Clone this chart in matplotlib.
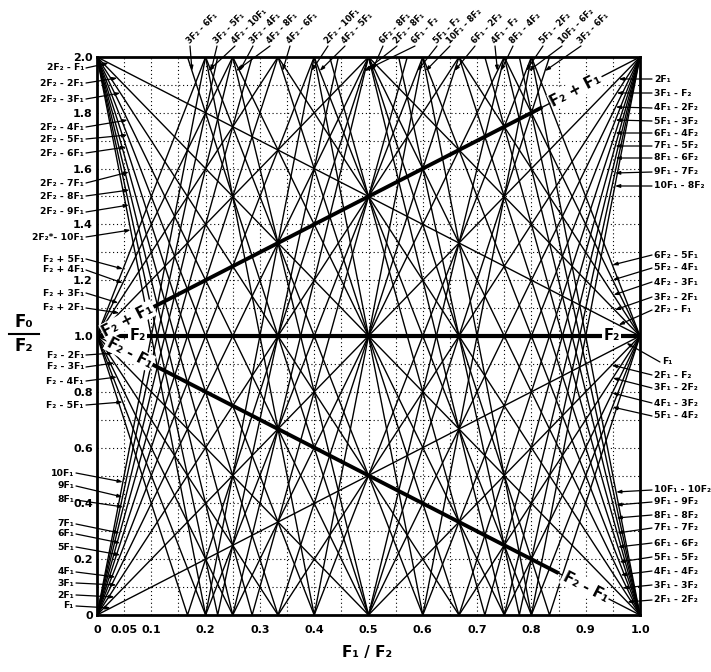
import numpy as np
import matplotlib.pyplot as plt

W, H = 711, 672
plt.rcParams["font.family"] = ["DejaVu Sans"]
plt.rcParams["font.weight"] = "bold"

# every product line is y = |m*x + n|   with x = F1/F2, y = F0/F2
harm_m = [1, 2, 3, 4, 5, 6, 7, 8, 9, 10]            # mF1
sum_m = [1, 2, 3, 4, 5]                              # F2 + mF1
diff_m = [1, 2, 3, 4, 5, 6]                          # F2 - mF1
diff2_m = [1, 2, 3, 4, 5, 6, 7, 8, 9, 10]            # 2F2 - mF1
equal_k = [2, 3, 4, 5, 6, 7, 8, 9, 10]               # kF1 - kF2
upper_m = [2, 3, 4, 5]                               # (m+1)F2 - mF1  (m>=2)
lower_m = [4, 5, 6]                                  # mF1 - (m-1)F2
top_m = [5, 6, 7, 8, 9, 10]                          # mF1 - (m-2)F2
extra_mn = [(6, -3), (8, -4), (10, -4), (10, -6)]    # 3F2-6F1, 4F2-8F1, 4F2-10F1, 10F1-6F2

lines_mn = ([(m, 0) for m in harm_m] + [(m, 1) for m in sum_m]
            + [(m, -1) for m in diff_m] + [(m, -2) for m in diff2_m]
            + [(k, -k) for k in equal_k] + [(m, -(m + 1)) for m in upper_m]
            + [(m, -(m - 1)) for m in lower_m] + [(m, -(m - 2)) for m in top_m]
            + extra_mn)
lines_mn = sorted(set(lines_mn))

S1, S2 = "\u2081", "\u2082"
def lab(s):
    return s.replace("F1", "F" + S1).replace("F2", "F" + S2)

# left labels: text, (m, n), text y pixel, leader end y pixel
left_labels = [
    ("2F2 - F1", (1, -2), 68, 63), ("2F2 - 2F1", (2, -2), 83, 78),
    ("2F2 - 3F1", (3, -2), 99, 93), ("2F2 - 4F1", (4, -2), 127, 120),
    ("2F2 - 5F1", (5, -2), 139, 135), ("2F2 - 6F1", (6, -2), 153, 147),
    ("2F2 - 7F1", (7, -2), 183, 172), ("2F2 - 8F1", (8, -2), 196, 190),
    ("2F2 - 9F1", (9, -2), 212, 205), ("2F2*- 10F1", (10, -2), 237, 230),
    ("F2 + 5F1", (5, 1), 259, 269), ("F2 + 4F1", (4, 1), 270, 283),
    ("F2 + 3F1", (3, 1), 293, 303), ("F2 + 2F1", (2, 1), 308, 313),
    ("F2 - 2F1", (2, -1), 355, 353), ("F2 - 3F1", (3, -1), 367, 363),
    ("F2 - 4F1", (4, -1), 381, 377), ("F2 - 5F1", (5, -1), 405, 402),
    ("10F1", (10, 0), 473, 482), ("9F1", (9, 0), 486, 497),
    ("8F1", (8, 0), 500, 507), ("7F1", (7, 0), 524, 533),
    ("6F1", (6, 0), 534, 543), ("5F1", (5, 0), 547, 555),
    ("4F1", (4, 0), 572, 577), ("3F1", (3, 0), 583, 585),
    ("2F1", (2, 0), 595, 597), ("F1", (1, 0), 606, 608),
]
right_labels = [
    ("2F1", (2, 0), 79, 79), ("3F1 - F2", (3, -1), 93, 93),
    ("4F1 - 2F2", (4, -2), 108, 107), ("5F1 - 3F2", (5, -3), 121, 120),
    ("6F1 - 4F2", (6, -4), 133, 133), ("7F1 - 5F2", (7, -5), 146, 146),
    ("8F1 - 6F2", (8, -6), 158, 158), ("9F1 - 7F2", (9, -7), 172, 173),
    ("10F1 - 8F2", (10, -8), 186, 186),
    ("6F2 - 5F1", (5, -6), 255, 265), ("5F2 - 4F1", (4, -5), 268, 280),
    ("4F2 - 3F1", (3, -4), 282, 295), ("3F2 - 2F1", (2, -3), 297, 310),
    ("2F2 - F1", (1, -2), 310, 325),
    ("F1", (1, 0), 362, 343), ("2F1 - F2", (2, -1), 375, 365),
    ("3F1 - 2F2", (3, -2), 388, 378), ("4F1 - 3F2", (4, -3), 403, 393),
    ("5F1 - 4F2", (5, -4), 416, 407),
    ("10F1 - 10F2", (10, -10), 490, 492), ("9F1 - 9F2", (9, -9), 502, 505),
    ("8F1 - 8F2", (8, -8), 515, 518), ("7F1 - 7F2", (7, -7), 528, 533),
    ("6F1 - 6F2", (6, -6), 543, 547), ("5F1 - 5F2", (5, -5), 557, 562),
    ("4F1 - 4F2", (4, -4), 571, 575), ("3F1 - 3F2", (3, -3), 585, 588),
    ("2F1 - 2F2", (2, -2), 600, 602),
]
# top labels: text, (m, n), text start x pixel
top_labels = [
    ("3F2 - 6F1", (6, -3), 190), ("3F2 - 5F1", (5, -3), 217),
    ("4F2 - 10F1", (10, -4), 235), ("3F2 - 4F1", (4, -3), 253),
    ("4F2 - 8F1", (8, -4), 270), ("4F2 - 6F1", (6, -4), 290),
    ("2F2 - 10F1", (10, -2), 328), ("4F2 - 5F1", (5, -4), 345),
    ("6F2 - 8F1", (8, -6), 383), ("2F2 - 8F1", (8, -2), 397),
    ("6F1 - F2", (6, -1), 415), ("5F1 - F2", (5, -1), 437),
    ("10F1 - 8F2", (10, -8), 450), ("6F1 - 2F2", (6, -2), 475),
    ("4F1 - F2", (4, -1), 495), ("8F1 - 4F2", (8, -4), 513),
    ("5F1 - 2F2", (5, -2), 543), ("10F1 - 6F2", (10, -6), 562),
    ("3F2 - 6F1", (6, -3), 581),
]

xticks = [0, 0.05, 0.1, 0.2, 0.3, 0.4, 0.5, 0.6, 0.7, 0.8, 0.9, 1.0]
xticklabels = ["0", "0.05", "0.1", "0.2", "0.3", "0.4", "0.5", "0.6", "0.7", "0.8", "0.9", "1.0"]
yticks = [0, 0.2, 0.4, 0.6, 0.8, 1.0, 1.2, 1.4, 1.6, 1.8, 2.0]
yticklabels = ["0", "0.2", "0.4", "0.6", "0.8", "1.0", "1.2", "1.4", "1.6", "1.8", "2.0"]

fig = plt.figure(figsize=(W / 100, H / 100), dpi=100)
x0, x1, ytop, ybot = 97, 640, 57, 615
ax = fig.add_axes([x0 / W, 1 - ybot / H, (x1 - x0) / W, (ybot - ytop) / H])
ax.set_xlim(0, 1)
ax.set_ylim(0, 2)

def px2data(px, py):
    return (px - x0) / (x1 - x0), (ybot - py) / (ybot - ytop) * 2

# dotted grid
for gx in np.arange(0.05, 1.0, 0.05):
    ax.axvline(gx, color="k", lw=0.8, ls=(0, (1, 2.5)), zorder=0)
for gy in np.arange(0.1, 2.0, 0.1):
    ax.axhline(gy, color="k", lw=0.8, ls=(0, (1, 2.5)), zorder=0)

# product lines
for m, n in lines_mn:
    xs = [0.0, 1.0]
    v = -n / m
    if 0 < v < 1:
        xs = [0.0, v, 1.0]
    xs = np.array(xs)
    ax.plot(xs, np.abs(m * xs + n), color="k", lw=1.0, zorder=2)

# heavy lines F2, F2 + F1, F2 - F1
ax.plot([0, 1], [1, 1], color="k", lw=3, zorder=3, solid_capstyle="butt")
ax.plot([0.1, 0.82], [1.1, 1.82], color="k", lw=2.8, zorder=3, solid_capstyle="butt")
ax.plot([0.1, 0.85], [0.9, 0.15], color="k", lw=2.8, zorder=3, solid_capstyle="butt")

ang = np.degrees(np.arctan((ybot - ytop) / 2 / (x1 - x0)))
bb = dict(facecolor="white", edgecolor="none", pad=0.8)
big = dict(fontsize=10.5, fontweight="bold", ha="center", va="center", zorder=5,
           bbox=bb, rotation_mode="anchor")
ax.text(0.057, 1.057, lab("F2 + F1"), rotation=ang, **big)
ax.text(0.06, 0.94, lab("F2 - F1"), rotation=-ang, **big)
ax.text(0.075, 1.0, lab("F2"), **big)
ax.text(0.948, 1.0, lab("F2"), **big)
ax.text(0.882, 1.882, lab("F2 + F1"), rotation=ang, **big)
ax.text(0.9, 0.1, lab("F2 - F1"), rotation=-ang, **big)

def line_x(mn, y, side):
    m, n = mn
    cands = [(y - n) / m, (-y - n) / m]
    cands = [c for c in cands if -0.01 <= c <= 1.01]
    if side == "left":
        return min(cands)
    return max(cands)

arrow = dict(arrowstyle="-|>,head_length=0.35,head_width=0.12", color="k", lw=0.9,
             shrinkA=0, shrinkB=0, mutation_scale=8)

small = dict(fontsize=6.7, fontweight="bold", zorder=6)
for text, mn, ty, ey in left_labels:
    tx = 74 if "-" not in text and "+" not in text else 84
    _, yd = px2data(0, ey)
    xd = line_x(mn, yd, "left")
    ax.annotate("", xy=(xd, yd), xycoords="data", xytext=(tx + 2, H - ty),
                textcoords="figure pixels", arrowprops=arrow, annotation_clip=False)
    fig.text(tx / W, 1 - ty / H, lab(text), ha="right", va="center", **small)

for text, mn, ty, ey in right_labels:
    tx = 662 if text == "F1" else 654
    _, yd = px2data(0, ey)
    xd = line_x(mn, yd, "right")
    ax.annotate("", xy=(xd, yd), xycoords="data", xytext=(tx - 2, H - ty),
                textcoords="figure pixels", arrowprops=arrow, annotation_clip=False)
    fig.text(tx / W, 1 - ty / H, lab(text), ha="left", va="center", **small)

tsmall = dict(small, fontsize=6.0)
for text, mn, tx in top_labels:
    m, n = mn
    xt, _ = px2data(tx, 0)
    cands = [(1.95 - n) / m, (-1.95 - n) / m]
    xd = min(cands, key=lambda c: abs(c - xt))
    ax.annotate("", xy=(xd, 1.95), xycoords="data", xytext=(tx, H - 46),
                textcoords="figure pixels", arrowprops=arrow, annotation_clip=False)
    fig.text((tx + 1) / W, 1 - 45 / H, lab(text), ha="left", va="bottom",
             rotation=45, rotation_mode="anchor", **tsmall)

# axes
for sp in ax.spines.values():
    sp.set_linewidth(2)
    sp.set_zorder(4)
ax.set_xticks(xticks)
ax.set_xticklabels(xticklabels)
ax.set_yticks(yticks)
ax.set_yticklabels(yticklabels)
ax.tick_params(length=0, labelsize=8, pad=7)
ax.tick_params(axis="y", pad=3)
for t in ax.get_xticklabels() + ax.get_yticklabels():
    t.set_fontweight("bold")

fig.text(367 / W, 1 - 652 / H, "F" + S1 + " / F" + S2, ha="center", va="center",
         fontsize=11, fontweight="bold")
fig.text(24 / W, 1 - 322 / H, "F\u2080", ha="center", va="center", fontsize=12,
         fontweight="bold")
fig.text(24 / W, 1 - 346 / H, "F" + S2, ha="center", va="center", fontsize=12,
         fontweight="bold")
fig.add_artist(plt.Line2D([9 / W, 39 / W], [1 - 334 / H, 1 - 334 / H], color="k", lw=1.5))

fig.savefig("out.png", dpi=100)
